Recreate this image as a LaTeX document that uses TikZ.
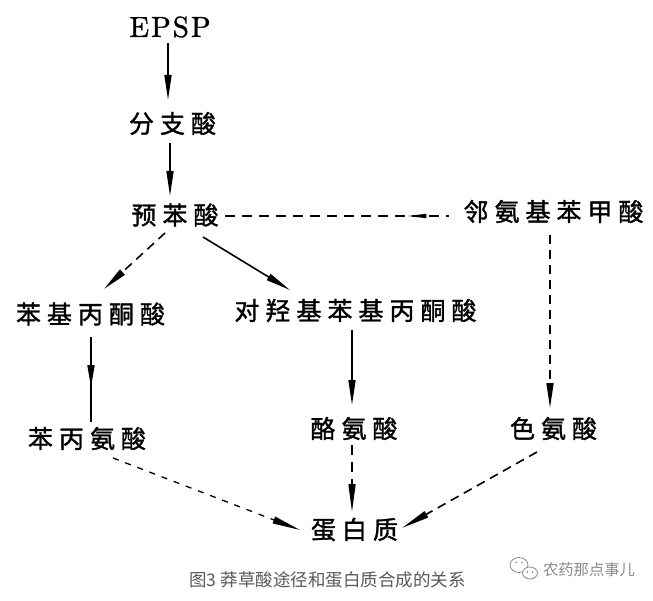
\documentclass[tikz,border=0pt]{standalone}
\usepackage{fontspec}
\newfontfamily\cjk{Noto Sans CJK SC}
\newfontfamily\cjkb{Noto Sans CJK SC}[FakeBold=1.3]
\newfontfamily\epspfont{lmroman10-regular}[Extension=.otf, FakeBold=1.2]
\usetikzlibrary{arrows.meta,calc,decorations.markings}
\newcommand\lsp{\kern6pt}
\definecolor{capgray}{HTML}{595959}
\definecolor{wmgray}{HTML}{8A8A8A}
\tikzset{
  lbl/.style={font=\cjkb\fontsize{25}{25}\selectfont, inner sep=0pt, text=black},
  ln/.style={line width=1.6pt, draw=black},
  tip/.style={-{Triangle[length=25pt,width=7pt]}},
  ltip/.style={-{Triangle[length=28pt,width=7pt]}},
  dsA/.style={dash pattern=on 10pt off 7pt},
  dsB/.style={dash pattern=on 9pt off 6pt},
  dsC/.style={dash pattern=on 6pt off 7pt, line width=1.3pt},
  midtip/.style={postaction={decorate}, decoration={markings, mark=at position #1 with {\arrow{Triangle[length=22pt,width=7pt]}}}},
  midrev/.style={postaction={decorate}, decoration={markings, mark=at position #1 with {\arrowreversed{Triangle[length=20pt,width=4pt]}}}},
  wm/.style={draw=wmgray, line width=0.8pt}
}
\begin{document}
\begin{tikzpicture}[x=1pt,y=-1pt]
\fill[white] (0,0) rectangle (653,601);
\useasboundingbox (0,0) rectangle (653,601);
% nodes
\node[inner sep=0pt, font=\epspfont\fontsize{29}{29}\selectfont] (epsp) at (170,27) {E\kern2pt P\kern2pt S\kern2pt P};
\node[lbl] (fzs) at (172.5,123.5) {分\lsp 支\lsp 酸};
\node[lbl] (ybs) at (175,215) {预\lsp 苯\lsp 酸};
\node[lbl] (lajb) at (553.5,211.5) {邻\lsp 氨\lsp 基\lsp 苯\lsp 甲\lsp 酸};
\node[lbl] (bjbt) at (90.5,314) {苯\lsp 基\lsp 丙\lsp 酮\lsp 酸};
\node[lbl] (dqj) at (355.5,310.5) {对\lsp 羟\lsp 基\lsp 苯\lsp 基\lsp 丙\lsp 酮\lsp 酸};
\node[lbl] (bba) at (87,438.5) {苯\lsp 丙\lsp 氨\lsp 酸};
\node[lbl] (la) at (354,428.5) {酪\lsp 氨\lsp 酸};
\node[lbl] (sa) at (553.5,428.5) {色\lsp 氨\lsp 酸};
\node[lbl] (dbz) at (354.5,529.5) {蛋\lsp 白\lsp 质};
% connectors
\draw[ln,tip] ($(epsp)+(-2,16)$) -- ($(fzs)+(-4.5,-23.5)$);
\draw[ln,tip] ($(fzs)+(-2.5,19.5)$) -- ($(ybs)+(-5,-19)$);
\draw[ln,dsA,midrev=0.81] ($(ybs)+(50,1)$) -- ($(lajb)+(-104.5,4.5)$);
\draw[ln,dsB,tip] ($(ybs)+(-10,18)$) -- ($(bjbt)+(13.5,-25)$);
\draw[ln,tip] ($(ybs)+(28,22)$) -- ($(dqj)+(-65.5,-20.5)$);
\draw[ln,midtip=0.59] ($(bjbt)+(0.5,23)$) -- ($(bba)+(4,-16.5)$);
\draw[ln,tip] ($(dqj)+(-3.5,19.5)$) -- ($(la)+(-2,-23.5)$);
\draw[ln,dsB,tip] ($(lajb)+(-3.5,23.5)$) -- ($(sa)+(-3.5,-20.5)$);
\draw[ln,dsC,ltip] ($(bba)+(26,19.5)$) -- ($(dbz)+(-54.5,0.5)$);
\draw[ln,dsA,ltip] ($(la)+(-2,16.5)$) -- ($(dbz)+(-2.5,-17.5)$);
\draw[ln,dsB,ltip] ($(sa)+(-16.5,23.5)$) -- ($(dbz)+(47.5,-1.5)$);
% caption
\node[inner sep=0pt, text=capgray, font=\cjk\fontsize{17.5}{17.5}\selectfont] (cap) at (327.5,580) {图3 莽草酸途径和蛋白质合成的关系};
% watermark
\draw[wm] (519,565) ellipse [x radius=9pt, y radius=7.5pt];
\draw[wm, fill=white] (530,573) ellipse [x radius=7.5pt, y radius=6pt];
\fill[wmgray] (516,562.5) circle [radius=0.9pt] (522,562.5) circle [radius=0.9pt]
  (527.5,572) circle [radius=0.8pt] (532.5,572) circle [radius=0.8pt];
\node[inner sep=0pt, text=wmgray, font=\cjk\fontsize{15.3}{15.3}\selectfont] (wmt) at (589,570) {农药那点事儿};
\end{tikzpicture}
\end{document}
